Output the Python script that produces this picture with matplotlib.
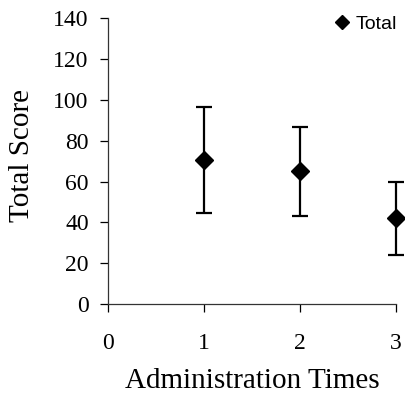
import matplotlib
matplotlib.use('Agg')
import matplotlib.pyplot as plt
from matplotlib.lines import Line2D

# administration times and total score mean +/- error
times = [1, 2, 3]
means = [70.5, 65.0, 42.0]
err_low = [26.0, 22.0, 18.0]
err_high = [26.0, 21.5, 17.7]

fig = plt.figure(figsize=(4.05, 3.95), dpi=100)
ax = fig.add_axes([0.267, 0.230, 0.711, 0.724])

ax.errorbar(times, means, yerr=[err_low, err_high], fmt='D', color='black',
            markersize=9, elinewidth=1.6, capsize=6, capthick=1.6,
            clip_on=False, zorder=3)

ax.set_xlim(0, 3)
ax.set_ylim(0, 140)
ax.set_xticks([0, 1, 2, 3])
ax.set_yticks(range(0, 141, 20))
for s in ['top', 'right']:
    ax.spines[s].set_visible(False)
for s in ['left', 'bottom']:
    ax.spines[s].set_linewidth(0.9)
    ax.spines[s].set_color('#333333')

serif = 'Liberation Serif'
ax.tick_params(axis='y', direction='out', length=6, width=0.9, pad=8)
ax.tick_params(axis='x', direction='out', length=6, width=0.9, pad=15)
for lab in ax.get_xticklabels() + ax.get_yticklabels():
    lab.set_fontfamily(serif)
    lab.set_fontsize(17)

ax.set_xlabel('Administration Times', fontfamily=serif, fontsize=21, labelpad=10)
ax.set_ylabel('Total Score', fontfamily=serif, fontsize=21)
ax.yaxis.set_label_coords(-0.255, 0.52)

proxy = Line2D([], [], marker='D', color='black', linestyle='none', markersize=7)
ax.legend([proxy], ['Total'], loc='upper right', bbox_to_anchor=(1.045, 1.05),
          frameon=False, prop={'family': 'Liberation Sans', 'size': 14},
          handletextpad=0.2, handlelength=1.0, borderaxespad=0.2)

plt.savefig('out.png', dpi=100)
